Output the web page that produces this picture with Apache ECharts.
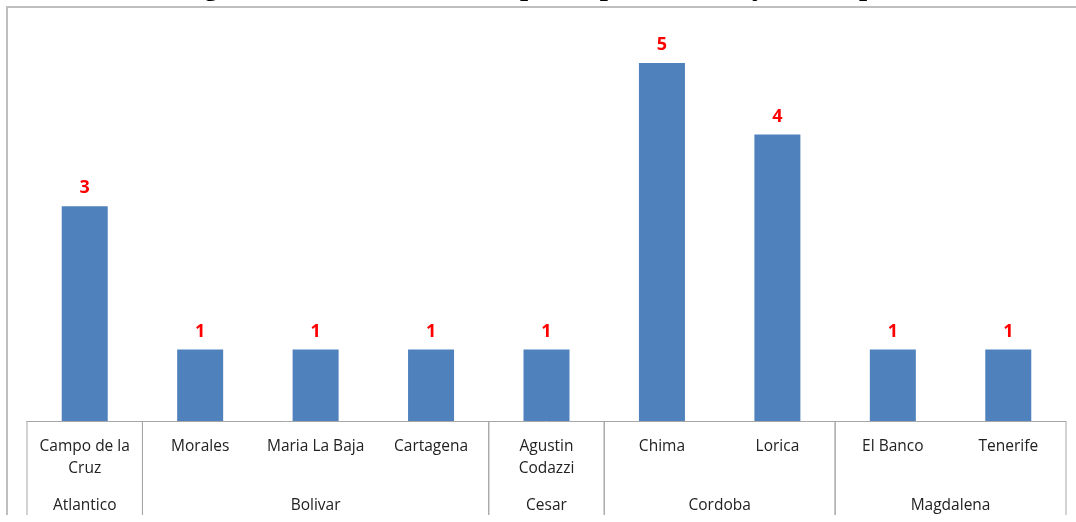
<!DOCTYPE html>
<html>
<head>
<meta charset="utf-8">
<script src="https://cdn.jsdelivr.net/npm/echarts@6/dist/echarts.min.js"></script>
<style>
  html, body { margin: 0; padding: 0; background: #fff; }
  #chart { width: 1076px; height: 522px; }
</style>
</head>
<body>
<div id="chart"></div>
<script>
// datos
const titulo = 'Figura 4. Procesados ICBF por departamento y municipio'
const municipios = ['Campo de la\nCruz', 'Morales', 'Maria La Baja', 'Cartagena', 'Agustin\nCodazzi', 'Chima', 'Lorica', 'El Banco', 'Tenerife']
const valores = [3, 1, 1, 1, 1, 5, 4, 1, 1]
const departamentos = ['Atlantico', 'Bolivar', 'Cesar', 'Cordoba', 'Magdalena']
const municipiosPorDepto = [1, 3, 1, 2, 2]

// rango de indices de cada departamento sobre el eje
const rangos = []
let inicio = 0
municipiosPorDepto.forEach(function (n) {
  rangos.push([inicio, inicio + n - 1])
  inicio += n
})

const chart = echarts.init(document.getElementById('chart'))
const lineColor = '#a6a6a6'
const labelFont = '"Open Sans", "Noto Sans", sans-serif'

const option = {
  animation: false,
  title: {
    text: titulo,
    left: 'center',
    top: -32,
    textStyle: {
      fontFamily: '"Liberation Serif", "Times New Roman", serif',
      fontWeight: 'bold',
      fontSize: 29,
      color: '#000'
    }
  },
  graphic: [{
    type: 'polyline',
    shape: { points: [[7, 515], [7, 7], [1076, 7]] },
    style: { stroke: '#bfbfbf', lineWidth: 2, fill: null },
    z: -1
  }],
  grid: {
    left: 27,
    right: 10,
    top: 0,
    bottom: 101
  },
  xAxis: {
    type: 'category',
    data: municipios,
    axisLine: { lineStyle: { color: lineColor, width: 1 } },
    axisTick: { show: false },
    axisLabel: {
      interval: 0,
      margin: 15,
      color: '#222',
      fontFamily: labelFont,
      fontSize: 15.5,
      lineHeight: 22,
      verticalAlign: 'top'
    }
  },
  yAxis: {
    type: 'value',
    min: 0,
    max: 5.88,
    show: false
  },
  series: [
    {
      type: 'bar',
      data: valores,
      barWidth: 46,
      itemStyle: { color: '#4f81bd' },
      label: {
        show: true,
        position: 'top',
        distance: 9,
        color: '#ff0000',
        fontWeight: 'bold',
        fontSize: 18,
        fontFamily: labelFont
      }
    },
    {
      type: 'custom',
      data: rangos,
      encode: { x: [0, 1] },
      silent: true,
      renderItem: function (params, api) {
        const band = api.size([1, 0])[0]
        const p0 = api.coord([api.value(0), 0])
        const p1 = api.coord([api.value(1), 0])
        const x0 = p0[0] - band / 2
        const x1 = p1[0] + band / 2
        const y = p0[1]
        return {
          type: 'group',
          children: [
            { type: 'line', shape: { x1: x0, y1: y, x2: x0, y2: y + 94 }, style: { stroke: lineColor, lineWidth: 1 } },
            { type: 'line', shape: { x1: x1, y1: y, x2: x1, y2: y + 94 }, style: { stroke: lineColor, lineWidth: 1 } },
            {
              type: 'text',
              x: (x0 + x1) / 2,
              y: y + 85,
              style: {
                text: departamentos[params.dataIndex],
                align: 'center',
                verticalAlign: 'middle',
                fill: '#222',
                font: '15.5px ' + labelFont
              }
            }
          ]
        }
      }
    }
  ]
}
chart.setOption(option)
</script>
</body>
</html>
